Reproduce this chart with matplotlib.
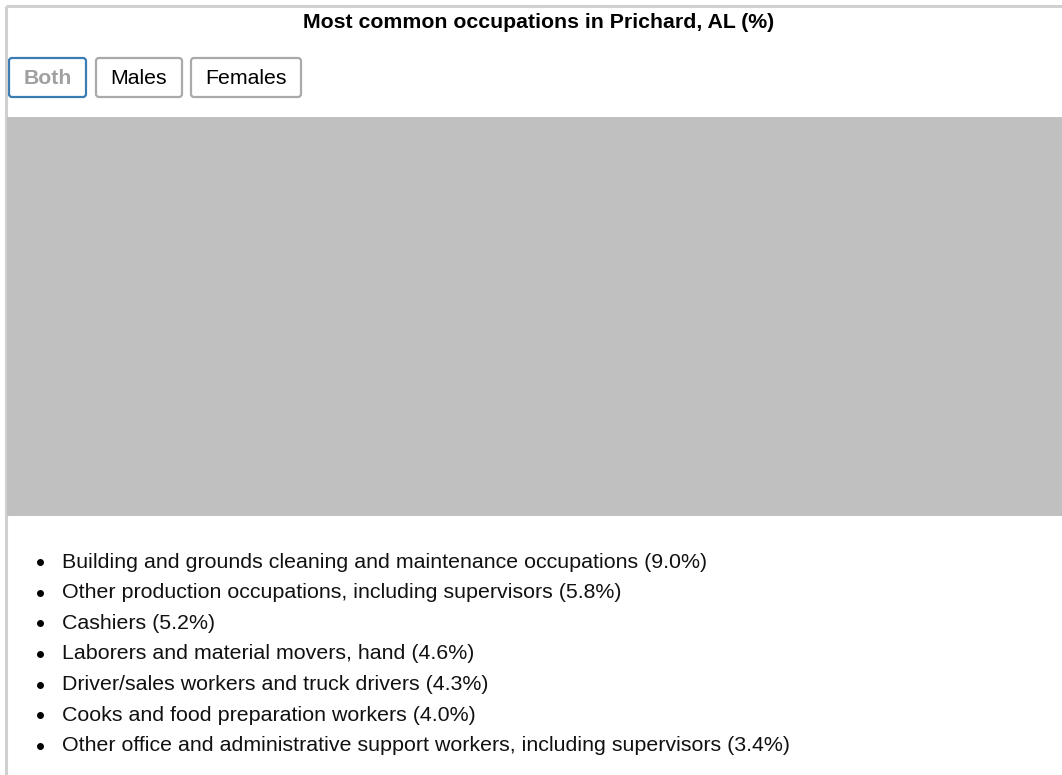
import matplotlib.pyplot as plt
from matplotlib.patches import FancyBboxPatch

plt.rcParams["font.family"] = ["Liberation Sans", "DejaVu Sans"]

TITLE = "Most common occupations in Prichard, AL (%)"
BUTTONS = ["Both", "Males", "Females"]
OCCUPATIONS = [
    "Building and grounds cleaning and maintenance occupations",
    "Other production occupations, including supervisors",
    "Cashiers",
    "Laborers and material movers, hand",
    "Driver/sales workers and truck drivers",
    "Cooks and food preparation workers",
    "Other office and administrative support workers, including supervisors",
]
SHARES = [9.0, 5.8, 5.2, 4.6, 4.3, 4.0, 3.4]

W, H = 1062, 775
fig = plt.figure(figsize=(W / 100, H / 100), dpi=100)
fig.patch.set_facecolor("white")

# pixel-space overlay
ov = fig.add_axes([0, 0, 1, 1])
ov.set_xlim(0, W)
ov.set_ylim(H, 0)
ov.axis("off")

# outer frame
ov.plot([6, W], [6, 6], color="#d0d0d0", lw=2.2, solid_capstyle="butt")
ov.plot([6, 6], [6, H], color="#d0d0d0", lw=2.2, solid_capstyle="butt")

ov.text(539, 23, TITLE, ha="center", va="center", fontsize=15.3, fontweight="bold", color="black")

# toggle buttons
btn_x = [(9, 86), (96, 182), (191, 301)]
for i, (label, (x0, x1)) in enumerate(zip(BUTTONS, btn_x)):
    active = i == 0
    ov.add_patch(FancyBboxPatch((x0, 58), x1 - x0, 39,
                                boxstyle="round,pad=0,rounding_size=3",
                                fc="white", ec="#3b7cb3" if active else "#aaaaaa", lw=1.6))
    ov.text((x0 + x1) / 2, 78, label, ha="center", va="center", fontsize=15.3,
            fontweight="bold" if active else "normal",
            color="#a0a0a0" if active else "black")

# chart area (no bars rendered)
ax = fig.add_axes([7 / W, 1 - 516 / H, (W - 7) / W, (516 - 117) / H])
ax.set_facecolor("#c0c0c0")
ax.set_xlim(0, max(SHARES))
ax.set_ylim(0, len(SHARES))
for s in ax.spines.values():
    s.set_visible(False)
ax.set_xticks([])
ax.set_yticks([])

# bulleted list
for i, (occ, v) in enumerate(zip(OCCUPATIONS, SHARES)):
    y = 562 + i * 30.65
    ov.plot(40, y, "o", ms=4.0, color="black")
    ov.text(62, y, f"{occ} ({v:.1f}%)", ha="left", va="center", fontsize=15.4, color="#111111")

fig.savefig("out.png", dpi=100)
